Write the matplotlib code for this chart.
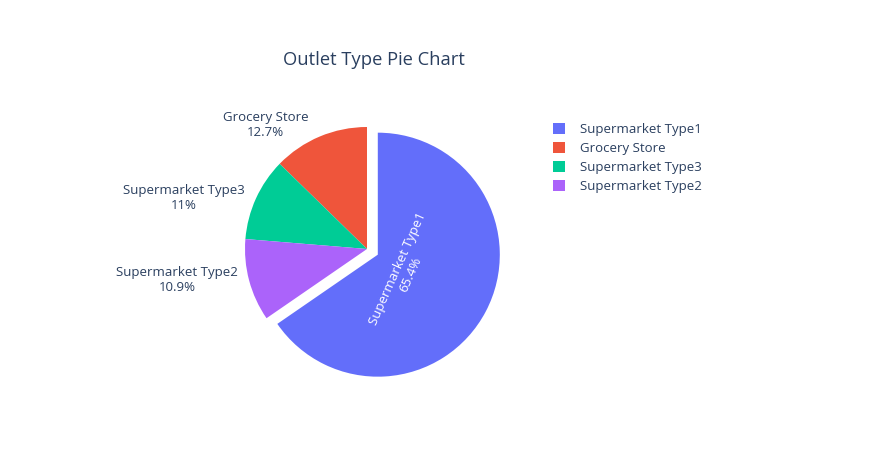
import numpy as np
import matplotlib.pyplot as plt
from matplotlib.patches import Patch

plt.rcParams['font.family'] = ['Open Sans', 'DejaVu Sans']

# drawing order (counterclockwise from top) and legend order
labels = ['Grocery Store', 'Supermarket Type3', 'Supermarket Type2', 'Supermarket Type1']
share = [12.7, 11.0, 10.9, 65.4]
pct_text = ['12.7%', '11%', '10.9%', '65.4%']
colors = ['#ef553b', '#00cc96', '#ab63fa', '#636efa']
legend_order = ['Supermarket Type1', 'Grocery Store', 'Supermarket Type3', 'Supermarket Type2']

txt_col = '#2a3f5f'
fs = 9.5

fig = plt.figure(figsize=(8.83, 4.53), dpi=100)
W, H = 883, 453
cx, cy, r = 367, 249, 122
ax = fig.add_axes([(cx - r) / W, (H - cy - r) / H, 2 * r / W, 2 * r / H])

explode = [0, 0, 0, 0.1]
wedges, _ = ax.pie(share, colors=colors, startangle=90, counterclock=True,
                   explode=explode, wedgeprops=dict(linewidth=0))
ax.set_xlim(-1, 1)
ax.set_ylim(-1, 1)
ax.set_aspect('equal')
ax.axis('off')
for w in wedges:
    w.set_clip_on(False)

for w, lab, p, e in zip(wedges, labels, pct_text, explode):
    mid = np.deg2rad((w.theta1 + w.theta2) / 2)
    c, s = np.cos(mid), np.sin(mid)
    if lab == 'Supermarket Type1':
        # inside label, turned along the slice
        ax.text(0.3 * c + 0.04, 0.3 * s - 0.05, lab + '\n' + p, color='white',
                fontsize=fs, ha='center', va='center', rotation=66,
                rotation_mode='anchor', linespacing=1.15)
    else:
        if abs(s) > 0.6:
            va = 'bottom' if s > 0 else 'top'
            x = c - 0.09
            y = s - 0.02
        else:
            va = 'center'
            x = c - 0.09
            y = s
        ax.text(x, y, lab + '\n' + p, color=txt_col, fontsize=fs,
                ha='right', va=va, multialignment='center', linespacing=1.2)

fig.text(374 / W, 1 - 60 / H, 'Outlet Type Pie Chart', color=txt_col,
         fontsize=13.2, ha='center', va='center')

col_of = dict(zip(labels, colors))
handles = [Patch(facecolor=col_of[n], edgecolor='none') for n in legend_order]
fig.legend(handles, legend_order, loc='upper left', bbox_to_anchor=(553 / W, 1 - 123 / H),
           frameon=False, fontsize=fs, labelcolor=txt_col, handlelength=0.9,
           handleheight=0.9, handletextpad=1.14, labelspacing=0.45, borderpad=0,
           borderaxespad=0)

fig.savefig('out.png', dpi=100)
